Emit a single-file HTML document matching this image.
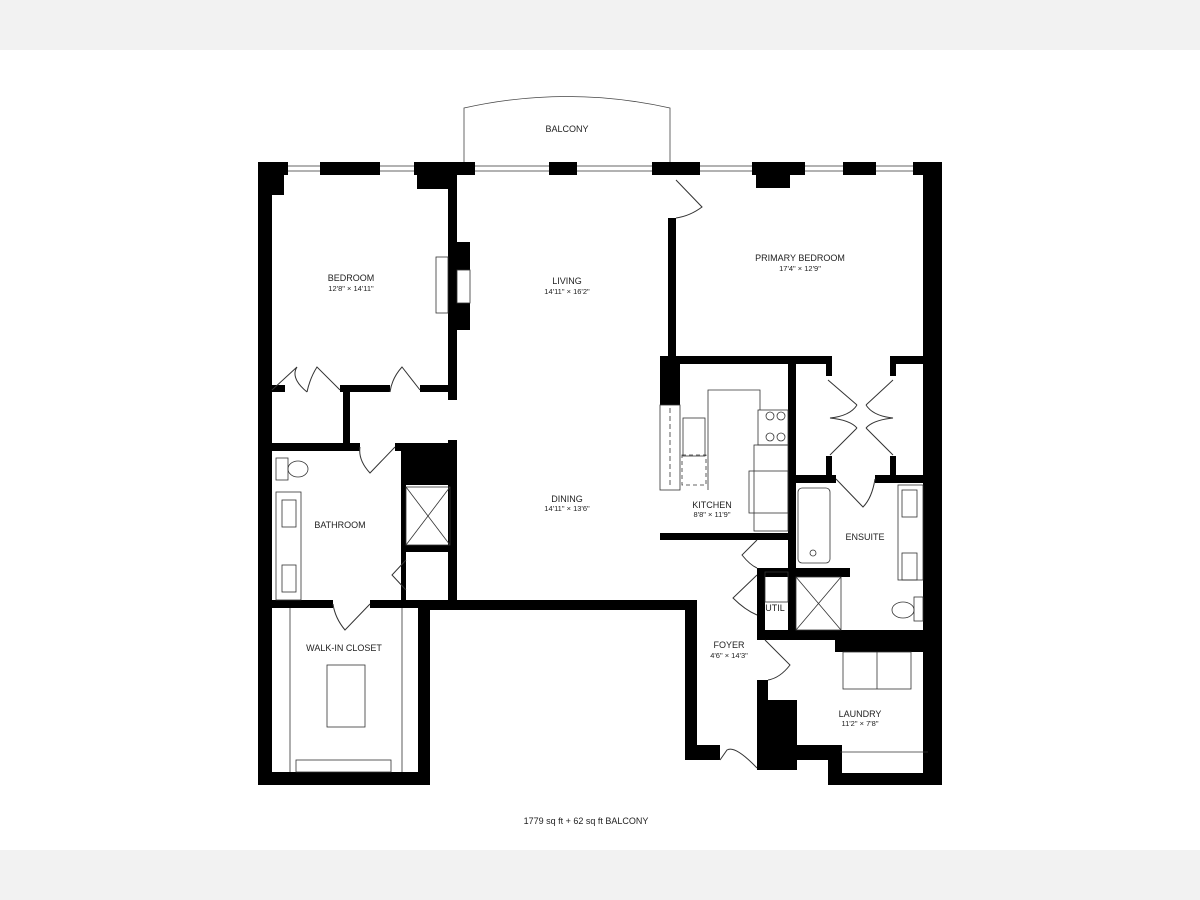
<!DOCTYPE html>
<html><head><meta charset="utf-8"><style>
html,body{margin:0;padding:0;width:1200px;height:900px;overflow:hidden;background:#fff}
svg{display:block}
text{font-family:"Liberation Sans",sans-serif;fill:#222;text-anchor:middle}
.l{font-size:9px}.s{font-size:7.5px}
</style></head><body>
<svg width="1200" height="900" viewBox="0 0 1200 900">
<rect x="0" y="0" width="1200" height="50" fill="#f2f2f2"/>
<rect x="0" y="850" width="1200" height="50" fill="#f2f2f2"/>
<path d="M464 162 V108 Q567 85 670 108 V162" fill="none" stroke="#444" stroke-width="0.8"/>
<text x="567" y="132" class="l">BALCONY</text>
<g stroke="#333" stroke-width="0.8">
<line x1="284" y1="166" x2="922" y2="166"/><line x1="284" y1="171" x2="922" y2="171"/>
</g>
<g fill="#000">
<rect x="258" y="162" width="14" height="623"/>
<rect x="258" y="162" width="30" height="13"/><rect x="258" y="162" width="26" height="33"/>
<rect x="320" y="162" width="60" height="13"/>
<rect x="414" y="162" width="61" height="13"/><rect x="417" y="162" width="33" height="27"/>
<rect x="549" y="162" width="28" height="13"/>
<rect x="652" y="162" width="48" height="13"/>
<rect x="752" y="162" width="53" height="13"/><rect x="756" y="162" width="34" height="26"/>
<rect x="843" y="162" width="33" height="13"/>
<rect x="913" y="162" width="29" height="13"/>
<rect x="923" y="162" width="19" height="623"/>
<rect x="448" y="162" width="9" height="238"/>
<rect x="448" y="242" width="22" height="88"/>
<rect x="448" y="440" width="9" height="167"/>
<rect x="668" y="218" width="8" height="142"/>
<rect x="660" y="356" width="20" height="49"/>
<rect x="660" y="356" width="172" height="8"/>
<rect x="826" y="356" width="6" height="20"/>
<rect x="890" y="356" width="6" height="20"/>
<rect x="890" y="356" width="38" height="8"/>
<rect x="788" y="363" width="8" height="267"/>
<rect x="796" y="475" width="40" height="8"/><rect x="875" y="475" width="53" height="8"/>
<rect x="826" y="456" width="6" height="22"/><rect x="890" y="456" width="6" height="22"/>
<rect x="660" y="533" width="128" height="7"/>
<rect x="757" y="568" width="93" height="9"/>
<rect x="757" y="568" width="8" height="72"/>
<rect x="757" y="630" width="171" height="10"/>
<rect x="835" y="630" width="93" height="22"/>
<rect x="430" y="600" width="267" height="10"/>
<rect x="685" y="600" width="12" height="160"/>
<rect x="685" y="745" width="35" height="15"/>
<rect x="757" y="680" width="11" height="90"/>
<rect x="757" y="700" width="40" height="70"/>
<rect x="757" y="745" width="81" height="15"/>
<rect x="828" y="745" width="14" height="40"/>
<rect x="828" y="773" width="114" height="12"/>
<rect x="272" y="385" width="13" height="7"/>
<rect x="340" y="385" width="50" height="7"/>
<rect x="420" y="385" width="37" height="7"/>
<rect x="343" y="385" width="7" height="58"/>
<rect x="272" y="443" width="88" height="8"/>
<rect x="395" y="443" width="62" height="8"/>
<rect x="401" y="443" width="50" height="42"/>
<rect x="401" y="485" width="5" height="115"/>
<rect x="405" y="545" width="45" height="7"/>
<rect x="272" y="600" width="61" height="8"/>
<rect x="370" y="600" width="87" height="8"/>
<rect x="418" y="600" width="12" height="185"/>
<rect x="258" y="772" width="172" height="13"/>
</g>
<rect x="457" y="270" width="13" height="33" fill="#fff" stroke="#333" stroke-width="0.8"/>
<g fill="none" stroke="#333" stroke-width="0.8">
<rect x="436" y="257" width="12" height="56"/>
<line x1="290" y1="608" x2="290" y2="772"/><line x1="402" y1="608" x2="402" y2="772"/>
<rect x="327" y="665" width="38" height="62"/><rect x="296" y="760" width="95" height="12"/>
<rect x="276" y="458" width="12" height="22"/><ellipse cx="298" cy="469" rx="10" ry="8"/>
<rect x="276" y="492" width="25" height="108"/><rect x="282" y="500" width="14" height="27"/><rect x="282" y="565" width="14" height="27"/>
<rect x="406" y="487" width="44" height="58"/><line x1="406" y1="487" x2="450" y2="545"/><line x1="450" y1="487" x2="406" y2="545"/>
<rect x="660" y="405" width="20" height="85"/>
<line x1="670" y1="408" x2="670" y2="488" stroke-dasharray="5 3"/>
<rect x="683" y="418" width="22" height="38"/><rect x="682" y="455" width="24" height="30" stroke-dasharray="4 3"/>
<path d="M708 490 V390 H760 V410"/>
<rect x="758" y="410" width="30" height="35"/>
<circle cx="770" cy="416" r="4"/><circle cx="781" cy="416" r="4"/><circle cx="770" cy="437" r="4"/><circle cx="781" cy="437" r="4"/>
<rect x="754" y="445" width="34" height="86"/><rect x="749" y="471" width="39" height="42"/>
<rect x="798" y="488" width="32" height="75" rx="4"/><circle cx="813" cy="553" r="3"/>
<rect x="796" y="577" width="45" height="53"/><line x1="796" y1="577" x2="841" y2="630"/><line x1="841" y1="577" x2="796" y2="630"/>
<rect x="898" y="485" width="25" height="95"/><rect x="902" y="490" width="15" height="27"/><rect x="902" y="553" width="15" height="27"/>
<rect x="914" y="597" width="9" height="24"/><ellipse cx="903" cy="610" rx="11" ry="8"/>
<rect x="765" y="572" width="23" height="30"/>
<rect x="843" y="652" width="68" height="37"/><line x1="877" y1="652" x2="877" y2="689"/>
<line x1="840" y1="752" x2="928" y2="752"/>
</g>
<g fill="none" stroke="#333" stroke-width="1">
<path d="M676 180 L702 207 Q690 216 676 218"/>
<path d="M272 390 L297 367 Q290 378 307 392 M340 390 L317 367 Q310 378 307 392"/>
<path d="M420 390 L402 367 Q392 378 390 392"/>
<path d="M395 447 L370 473 Q358 460 360 447"/>
<path d="M406 560 L392 575 L406 590"/>
<path d="M370 604 L345 630 Q335 618 333 604"/>
<path d="M828 380 L857 405 M857 428 L830 455 M857 405 Q850 416 830 418 Q850 420 857 428"/>
<path d="M893 380 L866 405 M866 428 L893 455 M866 405 Q873 416 893 418 Q873 420 866 428"/>
<path d="M836 479 L863 507 Q872 498 875 479"/>
<path d="M757 540 L742 555 Q750 565 757 568"/>
<path d="M757 575 L733 598 Q745 610 757 615"/>
<path d="M765 640 L790 665 Q780 678 768 680"/>
<path d="M720 760 L727 750 Q735 745 757 768"/>
</g>
<text x="351" y="281" class="l">BEDROOM</text><text x="351" y="291" class="s">12'8" × 14'11"</text>
<text x="567" y="284" class="l">LIVING</text><text x="567" y="294" class="s">14'11" × 16'2"</text>
<text x="800" y="261" class="l">PRIMARY BEDROOM</text><text x="800" y="271" class="s">17'4" × 12'9"</text>
<text x="567" y="502" class="l">DINING</text><text x="567" y="511" class="s">14'11" × 13'6"</text>
<text x="712" y="508" class="l">KITCHEN</text><text x="712" y="517" class="s">8'8" × 11'9"</text>
<text x="340" y="528" class="l">BATHROOM</text>
<text x="865" y="540" class="l">ENSUITE</text>
<text x="775" y="611" class="l">UTIL</text>
<text x="729" y="648" class="l">FOYER</text><text x="729" y="658" class="s">4'6" × 14'3"</text>
<text x="860" y="717" class="l">LAUNDRY</text><text x="860" y="726" class="s">11'2" × 7'8"</text>
<text x="344" y="651" class="l">WALK-IN CLOSET</text>
<text x="586" y="824" class="l">1779 sq ft + 62 sq ft BALCONY</text>
</svg>
</body></html>
